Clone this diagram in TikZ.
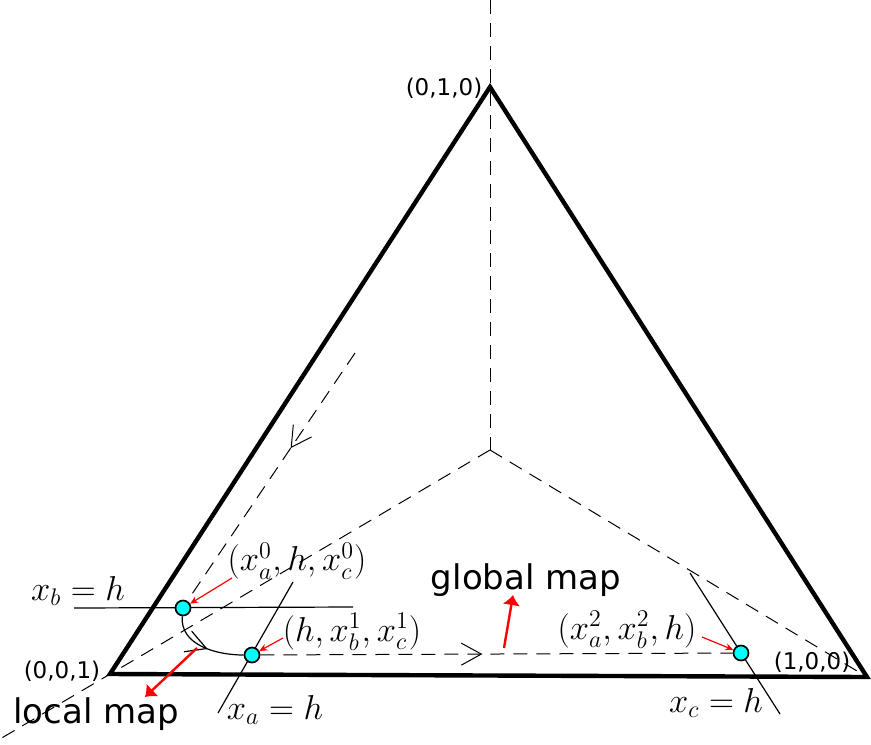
\documentclass[tikz,border=0pt]{standalone}
\usepackage{fontspec}
\setsansfont{DejaVu Sans}
\usepackage{amsmath}
\usepackage{tikz}
\usetikzlibrary{arrows.meta,decorations.markings}
\definecolor{PtCyan} {RGB}{0,255,255}
\definecolor{MapRed} {RGB}{255,0,0}
\tikzset{
  simplex/.style={line width=2.2pt, line join=miter},
  guide/.style={dash pattern=on 7pt off 4.5pt, line width=0.5pt},
  level/.style={line width=0.6pt},
  pt/.style={
    circle, fill=PtCyan, draw=black, line width=0.85pt,
    minimum size=7.5pt, inner sep=0pt
  },
  vlabel/.style  ={font=\sffamily\fontsize{11.5}{13}\selectfont, inner sep=0pt},
  maplabel/.style={font=\sffamily\fontsize{17}{20}\selectfont, inner sep=0pt},
  mathlabel/.style={font=\fontsize{17}{20}\selectfont, inner sep=0pt},
  eqlabel/.style ={font=\fontsize{18}{21}\selectfont, inner sep=0pt},
  pointer/.style={-{Stealth[length=4pt,width=3.5pt]},
                  line width=0.6pt, color=MapRed},
  mapflow/.style={-{Latex[length=5pt,width=9pt]},
                  line width=1.2pt, color=MapRed},
  midflow/.style={postaction={decorate},
    decoration={markings, mark=at position #1 with
      {\arrow{Straight Barb[length=10pt,width=11pt]}}}}
}

\begin{document}
\begin{tikzpicture}[x=0.5pt,y=-0.5pt]
  \useasboundingbox (0,0) rectangle (871,744);

  % vertices of the simplex and the centre
  \coordinate (A)    at (867,677);
  \coordinate (B)    at (490,87);
  \coordinate (C)    at (110,674);
  \coordinate (O)    at (490,450);
  \coordinate (Btop) at (490,0);
  \coordinate (Cfar) at (0,739);

  \draw[guide] (Btop) -- (O);
  \draw[guide] (O) -- (Cfar);
  \draw[guide] (O) -- (A);
  \draw[simplex] (C) -- (B) -- (A) -- cycle;

  % level lines x = h
  \coordinate (xb1) at (74,608);  \coordinate (xb2) at (353,607);
  \coordinate (xa1) at (293,582); \coordinate (xa2) at (218,713);
  \coordinate (xc1) at (690,573); \coordinate (xc2) at (780,714);
  \foreach \a/\b in {xb1/xb2, xa1/xa2, xc1/xc2}
    \draw[level] (\a) -- (\b);

  % the three points
  \node[pt] (P0) at (183,608) {};
  \node[pt] (P1) at (252,655) {};
  \node[pt] (P2) at (741,653) {};

  \coordinate (g0) at (355,353);
  \coordinate (g1) at (190,597);
  \draw[guide, midflow=0.39] (g0) -- (g1);
  \draw[level, midflow=0.55] (P0) to[out=-95,in=180] (P1);
  \draw[guide, midflow=0.47] (P1) -- (P2);

  % labels
  \node[vlabel]    (lB)  at (444,88)  {(0,1,0)};
  \node[vlabel]    (lC)  at (62,671)  {(0,0,1)};
  \node[vlabel]    (lA)  at (812,662) {(1,0,0)};
  \node[eqlabel]   (lxb) at (78,591)  {$x_b=h$};
  \node[eqlabel]   (lxa) at (275,710) {$x_a=h$};
  \node[eqlabel]   (lxc) at (716,703) {$x_c=h$};
  \node[mathlabel] (q0)  at (297,561) {$(x_a^0,h,x_c^0)$};
  \node[mathlabel] (q1)  at (352,632) {$(h,x_b^1,x_c^1)$};
  \node[mathlabel] (q2)  at (627,630) {$(x_a^2,x_b^2,h)$};
  \node[maplabel]  (gm)  at (526,580) {global map};
  \node[maplabel]  (lm)  at (96,714)  {local map};

  % red pointers
  \coordinate (t0) at (232,578);
  \coordinate (t1) at (283,638);
  \coordinate (t2) at (702,637);
  \foreach \a/\b in {t0/P0, t1/P1, t2/P2}
    \draw[pointer] (\a) -- (\b);

  \coordinate (lm0) at (197,648); \coordinate (lm1) at (145,697);
  \coordinate (gm0) at (504,648); \coordinate (gm1) at (513,595);
  \draw[mapflow] (lm0) -- (lm1);
  \draw[mapflow] (gm0) -- (gm1);
\end{tikzpicture}
\end{document}
